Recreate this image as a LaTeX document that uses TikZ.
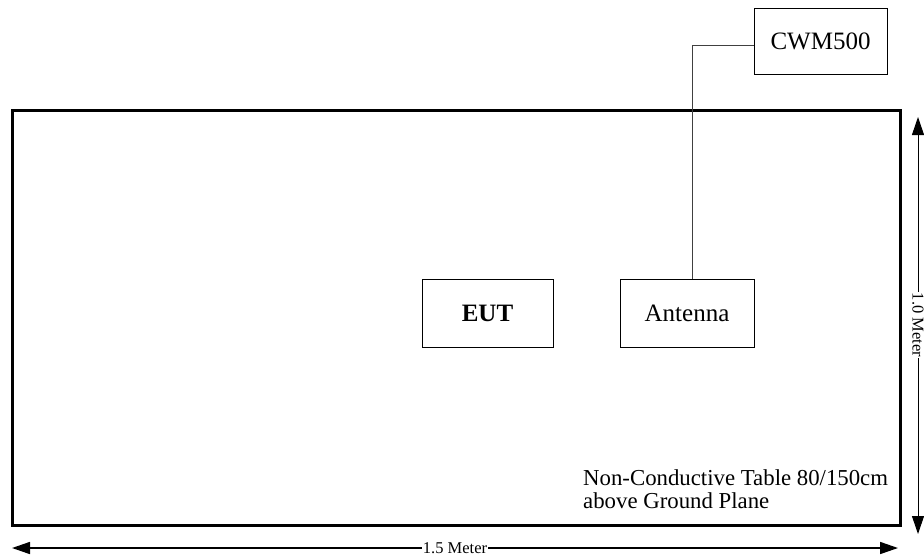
\documentclass[tikz,border=0pt]{standalone}
\usepackage{fontspec}
\setmainfont{Liberation Serif}
\usetikzlibrary{arrows.meta}
\tikzset{
  box/.style={draw=black, line width=1pt, inner sep=0pt, font=\fontsize{25}{29}\selectfont},
  dim/.style={{Triangle[length=18pt,width=12pt]}-{Triangle[length=18pt,width=12pt]}},
  dimlabel/.style={fill=white, inner sep=1pt, font=\fontsize{16.5}{18}\selectfont}
}
\begin{document}
\begin{tikzpicture}[x=1pt,y=-1pt]
\useasboundingbox (0,0) rectangle (924,558);
% table
\node[draw=black, line width=3pt, minimum width=888pt, minimum height=415pt, inner sep=0pt] (table) at (456,317.5) {};
% boxes
\node[box, minimum width=133pt, minimum height=66pt] (cwm) at (820.5,41) {CWM500};
\node[box, minimum width=131pt, minimum height=68pt] (eut) at (487.5,313) {\bfseries EUT};
\node[box, minimum width=134pt, minimum height=68pt] (ant) at (687,313) {Antenna};
% cable
\coordinate (bend) at (692,45);
\coordinate (cwmin) at (cwm.west |- bend);
\coordinate (antin) at (bend |- ant.north);
\draw[line width=1pt, black!75] (cwmin) -- (bend) -- (antin);
% table note
\node[anchor=base west, inner sep=0pt, align=left, font=\fontsize{22.8}{23}\selectfont] (note) at (583,508) {Non-Conductive Table 80/150cm\\above Ground Plane};
% horizontal dimension
\coordinate (hl) at (12,548);
\coordinate (hr) at (898,548);
\draw[dim, line width=1.6pt] (hl) -- (hr);
\node[dimlabel] (hlab) at (455,548) {1.5 Meter};
% vertical dimension
\coordinate (vt) at (918,117);
\coordinate (vb) at (918,534);
\draw[dim, line width=1pt] (vt) -- (vb);
\node[dimlabel, rotate=-90] (vlab) at (918,325) {1.0 Meter};
\end{tikzpicture}
\end{document}
